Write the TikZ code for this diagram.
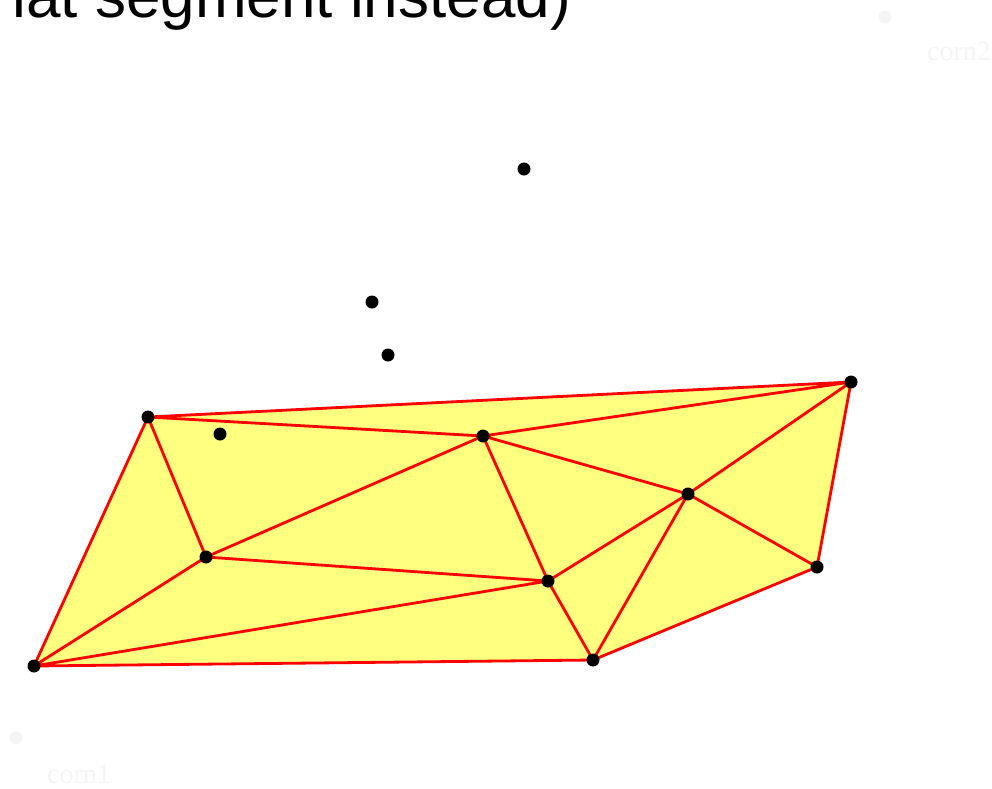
\documentclass[tikz,border=0pt]{standalone}
\usepackage{fontspec}
\setmainfont{Liberation Serif}
\newfontfamily\titlefont{Liberation Sans}
\definecolor{fillyel}{RGB}{255,255,128}
\definecolor{faint}{RGB}{245,245,245}
\begin{document}
\begin{tikzpicture}[x=1pt,y=-1pt,
  pt/.style={circle,fill=black,inner sep=0pt,minimum size=13pt},
  fpt/.style={circle,fill=faint,inner sep=0pt,minimum size=13pt},
  edge/.style={draw=red,line width=2.8pt,line cap=round,line join=round},
  lbl/.style={text=faint,font=\fontsize{28}{30}\selectfont,inner sep=0pt}]
\useasboundingbox (0,0) rectangle (992,788);
\coordinate (A) at (148,417);
\coordinate (F) at (851,382);
\coordinate (G) at (483,436);
\coordinate (H) at (688,494);
\coordinate (I) at (817,567);
\coordinate (J) at (206,557);
\coordinate (K) at (548,581);
\coordinate (L) at (593,660);
\coordinate (M) at (34,666);
\fill[fillyel] (A) -- (F) -- (I) -- (L) -- (M) -- cycle;
\path[edge] (A) -- (F) (A) -- (G) (G) -- (F) (A) -- (J) (A) -- (M)
  (J) -- (G) (J) -- (K) (J) -- (M) (M) -- (K) (M) -- (L) (G) -- (K)
  (G) -- (H) (K) -- (H) (K) -- (L) (L) -- (H) (H) -- (F) (H) -- (I)
  (F) -- (I) (L) -- (I);
\foreach \p in {A,F,G,H,I,J,K,L,M} \node[pt] (n\p) at (\p) {};
\node[pt] (B) at (220,434) {};
\node[pt] (C) at (372,302) {};
\node[pt] (D) at (388,355) {};
\node[pt] (E) at (524,169) {};
\node[fpt] (c1) at (16,738) {};
\node[fpt] (c2) at (885,17) {};
\node[lbl,anchor=base west] (l1) at (47,783) {corn1};
\node[lbl,anchor=base west] (l2) at (927,60) {corn2};
\node[anchor=base east,inner sep=0pt,font=\titlefont\fontsize{62}{70}\selectfont] (title) at (571,17) {lat segment instead)};
\end{tikzpicture}
\end{document}
